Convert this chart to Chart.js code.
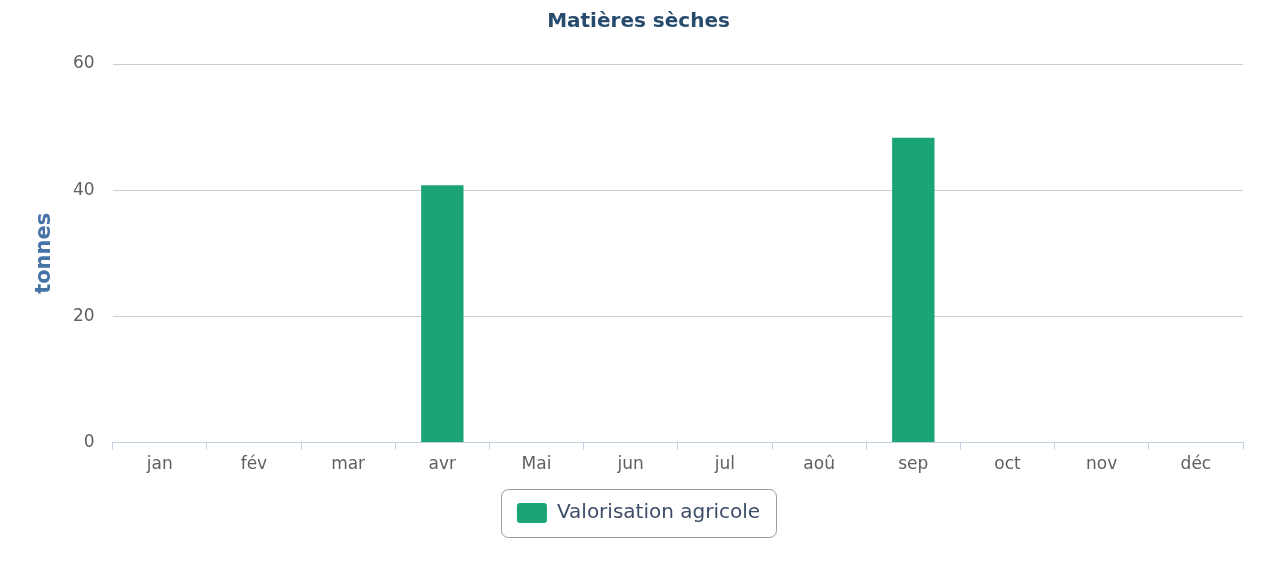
<!DOCTYPE html>
<html>
<head>
<meta charset="utf-8">
<script src="https://cdn.jsdelivr.net/npm/chart.js@4"></script>
<style>
  html, body { margin: 0; padding: 0; background: #fff; }
  #wrap { width: 1263px; height: 564px; }
</style>
</head>
<body>
<div id="wrap"><canvas id="c" width="1263" height="564"></canvas></div>
<script>
const months = ['jan', 'fév', 'mar', 'avr', 'Mai', 'jun', 'jul', 'aoû', 'sep', 'oct', 'nov', 'déc'];
const valorisationAgricole = [0, 0, 0, 40.8, 0, 0, 0, 0, 48.3, 0, 0, 0];
const yTicks = [0, 20, 40, 60];

const FONT = '"DejaVu Sans", Verdana, sans-serif';
const GREEN = '#1ba574';

// rounded frame around the legend entries
const legendFrame = {
  id: 'legendFrame',
  afterDraw(chart) {
    const lg = chart.legend;
    if (!lg || !lg.legendHitBoxes || !lg.legendHitBoxes.length) return;
    let x0 = Infinity, y0 = Infinity, x1 = -Infinity, y1 = -Infinity;
    lg.legendHitBoxes.forEach(b => {
      x0 = Math.min(x0, b.left); y0 = Math.min(y0, b.top);
      x1 = Math.max(x1, b.left + b.width); y1 = Math.max(y1, b.top + b.height);
    });
    const ctx = chart.ctx;
    const px = 16, py = 14;
    ctx.save();
    ctx.strokeStyle = '#9a9a9a';
    ctx.lineWidth = 1;
    ctx.beginPath();
    ctx.roundRect(Math.round(x0 - px) + 0.5, Math.round(y0 - py) + 0.5, Math.round(x1 - x0 + 2 * px), Math.round(y1 - y0 + 2 * py), 7);
    ctx.stroke();
    ctx.restore();
  }
};

new Chart(document.getElementById('c'), {
  type: 'bar',
  data: {
    labels: months,
    datasets: [{
      label: 'Valorisation agricole',
      data: valorisationAgricole,
      backgroundColor: GREEN,
      borderWidth: 0,
      categoryPercentage: 1.0,
      barPercentage: 0.45
    }]
  },
  options: {
    responsive: false,
    animation: false,
    layout: { padding: { left: 34, right: 20, top: 2, bottom: 31 } },
    plugins: {
      title: {
        display: true,
        text: 'Matières sèches',
        color: '#274b6d',
        font: { family: FONT, size: 20, weight: 'bold' },
        padding: { top: 8, bottom: 30 }
      },
      legend: {
        position: 'bottom',
        labels: {
          font: { family: FONT, size: 20 },
          boxWidth: 30,
          boxHeight: 20,
          padding: 23,
          generateLabels(chart) {
            return chart.data.datasets.map((ds, i) => ({
              text: ds.label,
              fillStyle: ds.backgroundColor,
              strokeStyle: ds.backgroundColor,
              fontColor: '#3d4d68',
              lineWidth: 0,
              borderRadius: 3,
              datasetIndex: i
            }));
          },
          useBorderRadius: true,
          borderRadius: 3
        }
      },
      tooltip: { enabled: false }
    },
    scales: {
      x: {
        grid: {
          offset: true,
          drawOnChartArea: false,
          drawTicks: true,
          tickLength: 7,
          color: '#c0d0e0'
        },
        border: { display: true, color: '#c0d0e0', width: 1 },
        ticks: {
          color: '#606060',
          font: { family: FONT, size: 17 },
          padding: 5,
          maxRotation: 0
        }
      },
      y: {
        min: 0,
        max: 60,
        afterBuildTicks(axis) { axis.ticks = yTicks.map(v => ({ value: v })); },
        grid: { color: '#cccccc', drawTicks: false },
        border: { display: false },
        ticks: {
          color: '#606060',
          font: { family: FONT, size: 17 },
          padding: 18
        },
        title: {
          display: true,
          text: 'tonnes',
          color: '#4572a7',
          font: { family: FONT, size: 21, weight: 'bold', lineHeight: 1 },
          padding: { top: 0, bottom: 0 }
        }
      }
    }
  },
  plugins: [legendFrame]
});
</script>
</body>
</html>
